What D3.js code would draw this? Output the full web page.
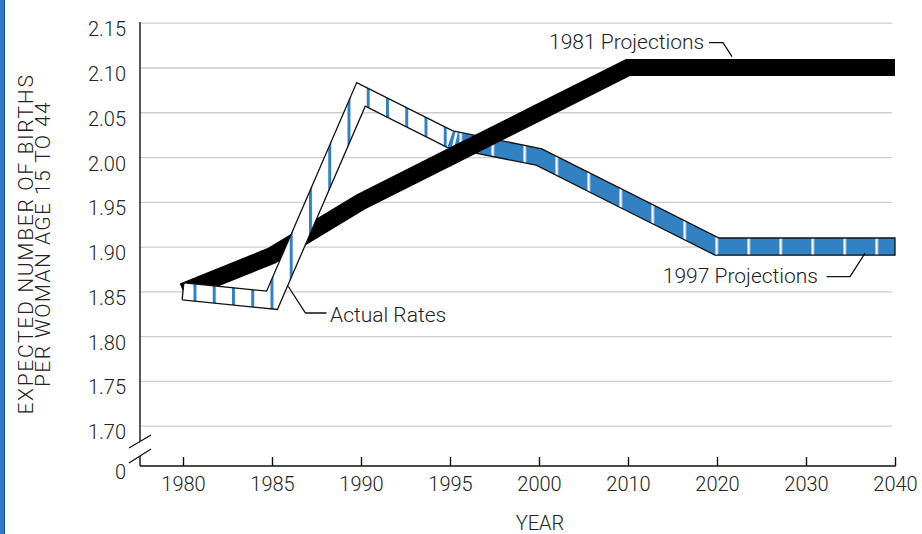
<!DOCTYPE html>
<html><head><meta charset="utf-8">
<script src="https://cdn.jsdelivr.net/npm/d3@7"></script>
<style>
html,body{margin:0;padding:0;background:#fff;}
svg{display:block;font-family:Roboto,"Noto Sans",sans-serif;font-weight:300;}
</style></head><body>
<svg id="c" width="922" height="534"></svg>
<script>
// ---------- data ----------
const years = ["1980","1985","1990","1995","2000","2010","2020","2030","2040"];
const actualYears = ["1980","1985","1990","1995"];
const actualRates = [1.85, 1.84, 2.07, 2.02];
const proj1997Years = ["2000","2010","2020","2030","2040"];
const proj1997 = [2.00, 1.95, 1.90, 1.90, 1.90];
const proj1981Years = ["1980","1985","1990","1995","2000","2010","2020","2030","2040"];
const proj1981 = [1.85, 1.89, 1.95, 2.00, 2.05, 2.10, 2.10, 2.10, 2.10];
const yTicks = [1.70, 1.75, 1.80, 1.85, 1.90, 1.95, 2.00, 2.05, 2.10, 2.15];
const yZeroLabel = "0";
const yTitle = ["EXPECTED NUMBER OF BIRTHS", "PER WOMAN AGE 15 TO 44"];
const xTitle = "YEAR";
const seriesLabels = ["1981 Projections", "1997 Projections", "Actual Rates"];

// ---------- layout / style ----------
const BLUE = "#3281c3", TXT = "#222";
const axisX = 140, axisY = 466, gridRight = 892;
const HALF = 8.6;

const svg = d3.select("#c");
const x = d3.scalePoint().domain(years).range([183, 895]);
const y = d3.scaleLinear().domain([1.70, 2.15]).range([425.7, 22.7]);

// left decoration bar
svg.append("rect").attr("x",0).attr("y",0).attr("width",4).attr("height",534).attr("fill","#2d7bc6");
svg.append("line").attr("x1",4.5).attr("x2",4.5).attr("y1",0).attr("y2",534).attr("stroke","#1d4b78").attr("stroke-width",1);

// gridlines + y labels
const yAxis = d3.axisLeft(y).tickValues(yTicks).tickFormat(d3.format(".2f"))
  .tickSizeInner(-(gridRight-axisX)).tickSizeOuter(0).tickPadding(14);
const gy = svg.append("g").attr("transform",`translate(${axisX},0)`).call(yAxis);
gy.select(".domain").remove();
gy.selectAll(".tick line").attr("stroke","#cdcdcd").attr("stroke-width",1.3);
gy.selectAll(".tick text").attr("fill",TXT).attr("font-size",20).attr("dy","0.65em")
  .attr("font-family","Roboto").attr("font-weight",300);

// zero label
svg.append("text").attr("x",axisX-14).attr("y",axisY).attr("dy","0.65em")
  .attr("text-anchor","end").attr("font-size",20).attr("fill",TXT).text(yZeroLabel);

// x axis
const xAxis = d3.axisBottom(x).tickSizeInner(-9).tickSizeOuter(0).tickPadding(11);
const gx = svg.append("g").attr("transform",`translate(0,${axisY})`).call(xAxis);
gx.select(".domain").remove();
gx.selectAll(".tick line").attr("stroke","#111").attr("stroke-width",1.4);
gx.selectAll(".tick text").attr("fill",TXT).attr("font-size",20)
  .attr("font-family","Roboto").attr("font-weight",300);
svg.append("line").attr("x1",axisX).attr("x2",x("2040")+0.7).attr("y1",axisY).attr("y2",axisY)
  .attr("stroke","#111").attr("stroke-width",1.4);

// y axis line with break
svg.append("line").attr("x1",axisX).attr("x2",axisX).attr("y1",y(2.15)-0.7).attr("y2",441.5)
  .attr("stroke","#111").attr("stroke-width",1.4);
svg.append("line").attr("x1",axisX).attr("x2",axisX).attr("y1",456).attr("y2",axisY)
  .attr("stroke","#111").attr("stroke-width",1.4);
[[448,435],[463,449]].forEach(([a,b])=>{
  svg.append("line").attr("x1",129).attr("y1",a).attr("x2",151).attr("y2",b)
    .attr("stroke","#111").attr("stroke-width",1.3);
});

// titles
svg.append("text").attr("transform","translate(33,244) rotate(-90)").attr("text-anchor","middle")
  .attr("font-size",21).attr("fill",TXT).attr("letter-spacing",1.7).text(yTitle[0]);
svg.append("text").attr("transform","translate(50,244) rotate(-90)").attr("text-anchor","middle")
  .attr("font-size",21).attr("fill",TXT).attr("letter-spacing",1.4).text(yTitle[1]);
svg.append("text").attr("x",540).attr("y",530).attr("text-anchor","middle")
  .attr("font-size",20).attr("fill",TXT).text(xTitle);

// ---------- ribbons ----------
function ribbon(pts, h){
  const n = pts.length, nr = [], top = [], bot = [];
  for (let i=0;i<n-1;i++){
    const dx = pts[i+1][0]-pts[i][0], dy = pts[i+1][1]-pts[i][1], L = Math.hypot(dx,dy);
    nr.push([dy/L, -dx/L]);
  }
  for (let i=0;i<n;i++){
    let m;
    if (i===0) m = [nr[0][0]*h, nr[0][1]*h];
    else if (i===n-1) m = [nr[n-2][0]*h, nr[n-2][1]*h];
    else {
      const a = nr[i-1], b = nr[i], d = 1 + a[0]*b[0] + a[1]*b[1];
      m = [(a[0]+b[0])/d*h, (a[1]+b[1])/d*h];
    }
    top.push([pts[i][0]+m[0], pts[i][1]+m[1]]);
    bot.push([pts[i][0]-m[0], pts[i][1]-m[1]]);
  }
  return {top, bot};
}
const P = a => "M" + a.map(p=>p[0].toFixed(2)+","+p[1].toFixed(2)).join("L");

const defs = svg.append("defs");
defs.append("pattern").attr("id","bstripe").attr("patternUnits","userSpaceOnUse")
  .attr("x",195-1.5).attr("y",0).attr("width",19.25).attr("height",534)
  .append("rect").attr("width",3).attr("height",534).attr("fill",BLUE);
defs.append("pattern").attr("id","wstripe").attr("patternUnits","userSpaceOnUse")
  .attr("x",460.7-1.25).attr("y",0).attr("width",32).attr("height",534)
  .append("rect").attr("width",2.5).attr("height",534).attr("fill","#fff");

// combined actual + 1997 centreline
const mainPts = actualYears.map((d,i)=>[x(d), y(actualRates[i])])
  .concat(proj1997Years.map((d,i)=>[x(d), y(proj1997[i])]));
const R = ribbon(mainPts, HALF);
const j = actualYears.length - 1;

// 1997 projections (blue with white stripes)
const projPoly = R.top.slice(j).concat(R.bot.slice(j).reverse());
defs.append("clipPath").attr("id","projclip").append("path").attr("d", P(projPoly)+"Z");
svg.append("path").attr("d",P(projPoly)+"Z").attr("fill",BLUE);
svg.append("path").attr("d",P(projPoly)+"Z").attr("fill","url(#wstripe)");
svg.append("line").attr("clip-path","url(#projclip)")
  .attr("x1",R.top[j][0]+5).attr("y1",R.top[j][1]-4).attr("x2",R.bot[j][0]+5).attr("y2",R.bot[j][1]+4)
  .attr("stroke","#fff").attr("stroke-width",2.5);
svg.append("path").attr("fill","none").attr("stroke","#111").attr("stroke-width",1.3).attr("stroke-linejoin","miter")
  .attr("d", P(R.top.slice(j)) + "L" + R.bot.slice(j).reverse().map(p=>p.join(",")).join("L"));

// 1981 projections (solid black)
const blackPts = proj1981Years.map((d,i)=>[x(d), y(proj1981[i])]);
const B = ribbon(blackPts, HALF);
svg.append("path").attr("d", P(B.top.concat(B.bot.slice().reverse()))+"Z").attr("fill","#000");

// actual rates (white with blue stripes)
const actPoly = R.top.slice(0,j+1).concat(R.bot.slice(0,j+1).reverse());
svg.append("path").attr("d",P(actPoly)+"Z").attr("fill","#fff");
svg.append("path").attr("d",P(actPoly)+"Z").attr("fill","url(#bstripe)");
svg.append("path").attr("fill","none").attr("stroke","#111").attr("stroke-width",1.3).attr("stroke-linejoin","miter")
  .attr("d", P([R.bot[0]].concat(R.top.slice(0,j+1))) + P(R.bot.slice(0,j+1)));

// ---------- annotations ----------
const ann = svg.append("g").attr("font-size",21).attr("fill",TXT);
const lead = pts => svg.append("path").attr("d",P(pts)).attr("fill","none").attr("stroke","#111").attr("stroke-width",1.3);

// 1981 Projections
ann.append("text").attr("x",549).attr("y",48.5).text(seriesLabels[0]);
lead([[709,42.7],[723,42.7],[x("2020")+15, y(2.10)-10.8]]);
// 1997 Projections
ann.append("text").attr("x",818).attr("y",282.7).attr("text-anchor","end").text(seriesLabels[1]);
lead([[826.7,276.7],[850,276.7],[x("2040")-30, y(1.90)+6.7]]);
// Actual Rates
ann.append("text").attr("x",330).attr("y",321.7).text(seriesLabels[2]);
lead([[288.3,286.5],[305.5,313],[326.5,313]]);
</script>
</body></html>
